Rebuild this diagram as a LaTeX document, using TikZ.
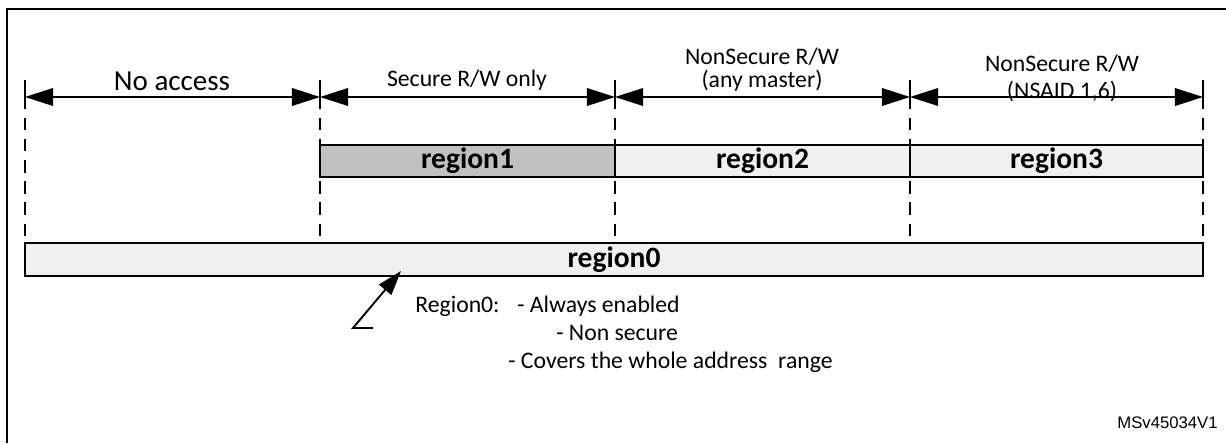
\documentclass[tikz,border=0pt]{standalone}
\usepackage{fontspec}
\setmainfont{Carlito}
\newfontfamily\arialfont{Liberation Sans}
\usetikzlibrary{arrows.meta}
\definecolor{RegGray}{HTML}{C0C0C0}
\definecolor{RegLight}{HTML}{F0F0F0}
\tikzset{
    span/.style={{Triangle[length=16pt,width=10pt]}-{Triangle[length=16pt,width=10pt]}, line width=1.1pt},
    bound/.style={line width=1.1pt, dash pattern=on 7pt off 5pt},
    regbox/.style={draw, line width=1.1pt, inner sep=0pt, minimum height=0.64cm,
        font=\fontsize{16.8}{20}\selectfont\bfseries},
    lbl/.style={font=\fontsize{13.5}{16}\selectfont, anchor=base, inner sep=0pt},
    biglbl/.style={font=\fontsize{16.5}{20}\selectfont, anchor=base, inner sep=0pt},
    note/.style={font=\fontsize{13.5}{16}\selectfont, anchor=base west, inner sep=0pt}
}

\begin{document}
\begin{tikzpicture}[x=0.02cm, y=-0.02cm]
    % =========================================
    % 1. 边框 (Frame)
    % =========================================
    \useasboundingbox (0,0) rectangle (1226,443);
    \draw[line width=1.7pt] (7,443) -- (7,9) -- (1226,9);

    % =========================================
    % 2. 地址边界 (Boundaries)
    % =========================================
    \foreach \i/\x in {0/25, 1/320, 2/615, 3/910, 4/1203} {
        \coordinate (t\i) at (\x,80);
        \coordinate (a\i) at (\x,97);
        \coordinate (d\i) at (\x,243);
        \draw[line width=1.1pt] (t\i) -- (a\i);
        \draw[bound] (a\i) -- (d\i);
    }

    % 访问范围箭头
    \foreach \i/\j in {0/1, 1/2, 2/3, 3/4} {
        \draw[span] (a\i) -- (a\j);
    }

    % 访问标签
    \node[biglbl] (noacc) at (172,90) {No access};
    \node[lbl] (sec) at (467,86) {Secure R/W only};
    \node[lbl] (ns1a) at (762,64) {NonSecure R/W};
    \node[lbl] (ns1b) at (762,87) {(any master)};
    \node[lbl] (ns2a) at (1062,71) {NonSecure R/W};
    \node[lbl] (ns2b) at (1062,98) {(NSAID 1,6)};

    % =========================================
    % 3. 区域 (Regions)
    % =========================================
    \node[regbox, fill=RegGray, minimum width=5.9cm] (reg1) at (467.5,161) {region1};
    \node[regbox, fill=RegLight, minimum width=5.9cm] (reg2) at (762.5,161) {region2};
    \node[regbox, fill=RegLight, minimum width=5.86cm] (reg3) at (1056.5,161) {region3};
    \node[regbox, fill=RegLight, minimum width=23.56cm, minimum height=0.66cm] (reg0) at (614,259.5) {region0};

    % =========================================
    % 4. 注释 (Note)
    % =========================================
    \coordinate (tail) at (373,328);
    \coordinate (knee) at (353,328);
    \coordinate (tip) at (401,271);
    \draw[line width=1.1pt, -{Triangle[length=14pt,width=9pt]}] (tail) -- (knee) -- (tip);

    \node[note] (n0) at (415,312) {Region0:};
    \node[note] (n1) at (517,312) {- Always enabled};
    \node[note] (n2) at (556,340) {- Non secure};
    \node[note] (n3) at (508,368) {- Covers the whole address\ \ range};

    \node[font=\arialfont\fontsize{9.5}{11}\selectfont, anchor=base east, inner sep=0pt] (ref) at (1218,428) {MSv45034V1};
\end{tikzpicture}
\end{document}
